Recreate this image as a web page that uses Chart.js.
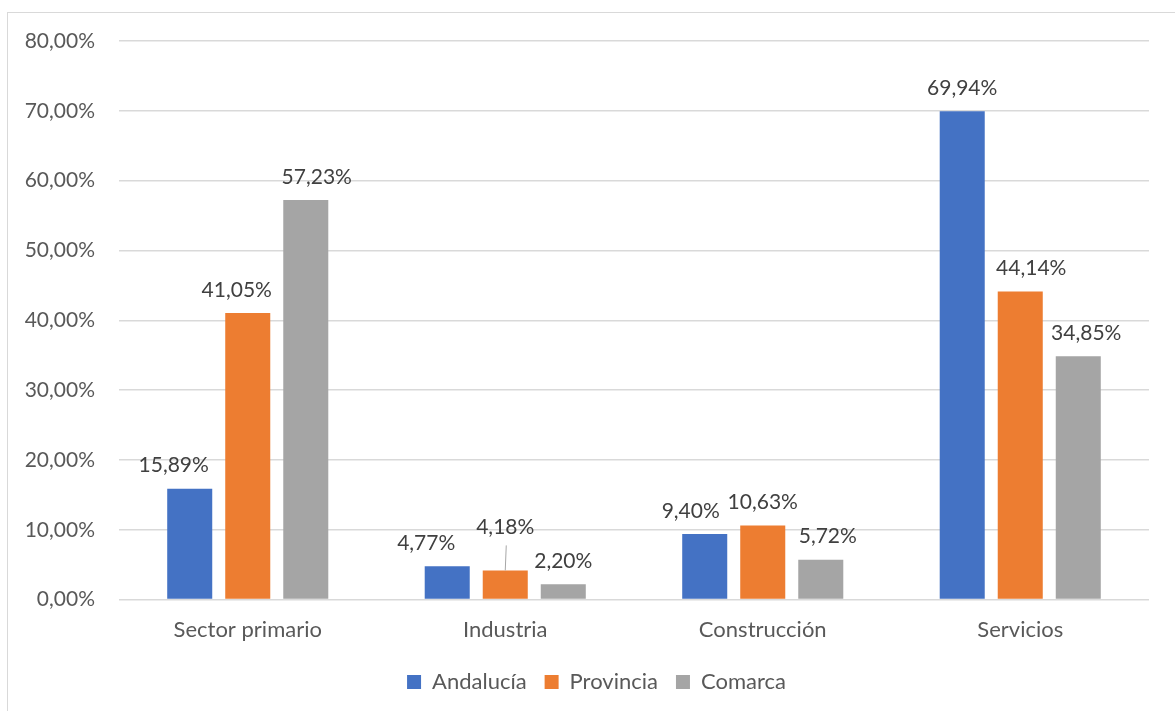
<!DOCTYPE html>
<html lang="es">
  <head>
    <meta charset="UTF-8" />
    <title>Sectores de actividad</title>
    <script src="https://cdn.jsdelivr.net/npm/chart.js"></script>
    <style>
      body {
        margin: 0;
        background: #fff;
        overflow: hidden;
      }
      .frame {
        position: absolute;
        left: 7px;
        top: 12px;
        width: 1168px;
        height: 699px;
        border-left: 1px solid #d9d9d9;
        border-top: 1px solid #d9d9d9;
      }
      #chart {
        display: block;
      }
    </style>
  </head>
  <body>
    <div class="frame">
      <canvas id="chart" width="1167" height="698"></canvas>
    </div>

    <script>
      const categories = ["Sector primario", "Industria", "Construcción", "Servicios"];
      const seriesNames = ["Andalucía", "Provincia", "Comarca"];
      const andalucia = [15.89, 4.77, 9.4, 69.94];
      const provincia = [41.05, 4.18, 10.63, 44.14];
      const comarca = [57.23, 2.2, 5.72, 34.85];
      const yTicks = [0, 10, 20, 30, 40, 50, 60, 70, 80];

      const colors = ["#4472C4", "#ED7D31", "#A5A5A5"];
      // nudges of the value labels, as in the original
      const labelShiftX = [
        [-16, -21, -14, 0],
        [-11, 0, 0, 11],
        [11, 0, 7, 8],
      ];
      const labelLift = [
        [0, 0, 0, 0],
        [0, 20, 0, 0],
        [0, 0, 0, 0],
      ];

      const FONT = "Lato, 'Open Sans', sans-serif";

      function pct(v) {
        return v.toFixed(2).replace(".", ",") + "%";
      }

      const valueLabels = {
        id: "valueLabels",
        afterDatasetsDraw(chart) {
          const ctx = chart.ctx;
          ctx.save();
          ctx.font = "21px " + FONT;
          ctx.fillStyle = "#404040";
          ctx.textAlign = "center";
          ctx.textBaseline = "middle";
          chart.data.datasets.forEach((ds, i) => {
            const meta = chart.getDatasetMeta(i);
            meta.data.forEach((bar, j) => {
              const lift = labelLift[i][j];
              const x = bar.x + labelShiftX[i][j];
              const y = bar.y - 23 - lift;
              ctx.fillText(pct(ds.data[j]), x, y);
              if (lift > 0) {
                ctx.strokeStyle = "#a6a6a6";
                ctx.lineWidth = 1;
                ctx.beginPath();
                ctx.moveTo(x + 1, y + 18);
                ctx.lineTo(bar.x, bar.y);
                ctx.stroke();
              }
            });
          });
          ctx.restore();
        },
      };

      // legend sits a bit right of the canvas centre in the original
      const legendNudge = {
        id: "legendNudge",
        afterLayout(chart) {
          chart.legend.left += 18;
          chart.legend.right += 18;
        },
      };

      const ctx = document.getElementById("chart").getContext("2d");
      new Chart(ctx, {
        type: "bar",
        data: {
          labels: categories,
          datasets: [andalucia, provincia, comarca].map((d, i) => ({
            label: seriesNames[i],
            data: d,
            backgroundColor: colors[i],
            categoryPercentage: 0.676,
            barPercentage: 0.776,
          })),
        },
        options: {
          responsive: false,
          animation: false,
          layout: { padding: { left: 0, right: 26, top: 28, bottom: 8 } },
          plugins: {
            legend: {
              position: "bottom",
              labels: {
                font: { family: FONT, size: 22 },
                color: "#595959",
                boxWidth: 14,
                boxHeight: 14,
                padding: 18,
              },
            },
            tooltip: { enabled: false },
          },
          scales: {
            x: {
              afterFit(scale) {
                scale.height += 1;
              },
              grid: { display: false },
              border: { display: false },
              ticks: {
                font: { family: FONT, size: 22 },
                color: "#595959",
                padding: 9,
              },
            },
            y: {
              min: 0,
              max: 80,
              afterFit(scale) {
                scale.width = 111;
                scale.paddingTop = 0;
                scale.paddingBottom = 0;
              },
              afterBuildTicks(scale) {
                scale.ticks = yTicks.map((v) => ({ value: v }));
              },
              grid: { color: "#d9d9d9", lineWidth: 1.5, drawTicks: false },
              border: { display: false },
              ticks: {
                font: { family: FONT, size: 21 },
                color: "#595959",
                padding: 24,
                callback: (v) => pct(v),
              },
            },
          },
        },
        plugins: [valueLabels, legendNudge],
      });
    </script>
  </body>
</html>
